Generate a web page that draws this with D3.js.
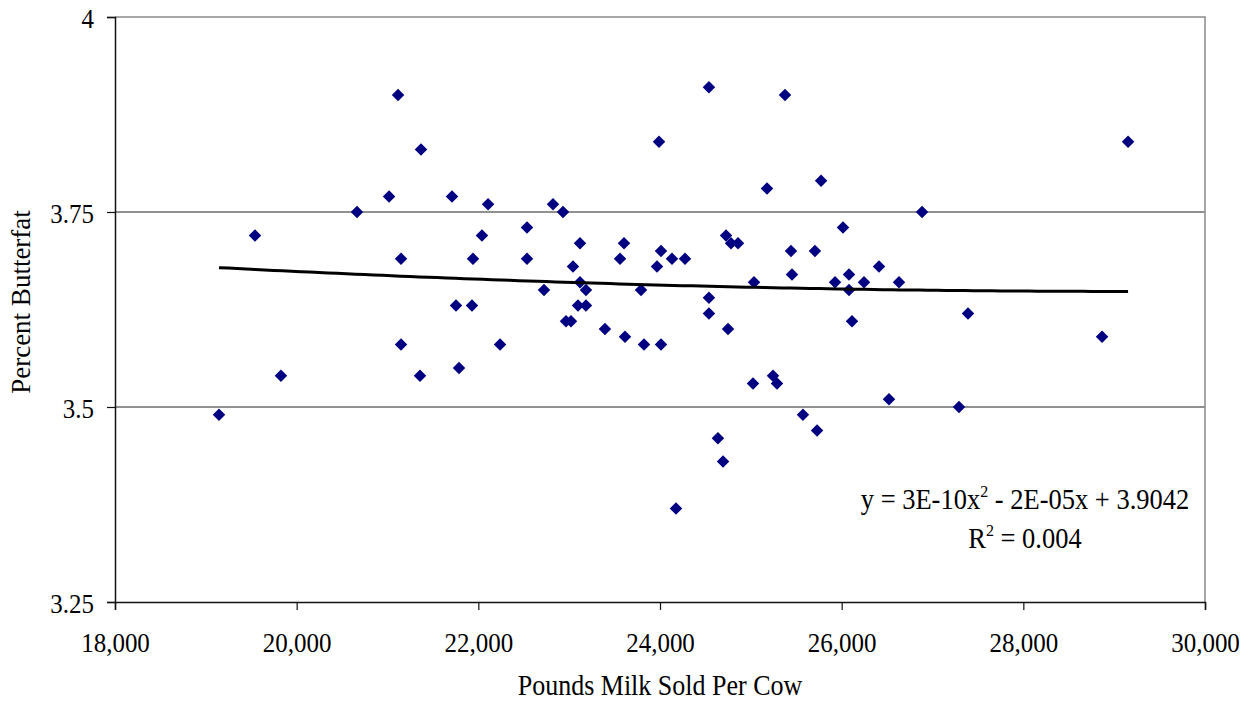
<!DOCTYPE html>
<html>
<head>
<meta charset="utf-8">
<script src="https://cdn.jsdelivr.net/npm/d3@7/dist/d3.min.js"></script>
<style>
  body { margin: 0; background: #fff; }
  text { font-family: "Liberation Serif", "Times New Roman", serif; fill: #000; }
</style>
</head>
<body>
<svg id="chart" width="1257" height="701"></svg>
<script>
// data: milk sold per cow (lb) and butterfat (%)
const milkSold = [
  19145, 19541, 19827, 20664, 21017, 21116, 21149, 21149, 21369, 21358,
  21710, 21754, 21787, 21930, 21941, 22040, 22107, 22239, 22536, 22536,
  22723, 22822, 22932, 22965, 23020, 23042, 23097, 23119, 23119, 23185,
  23185, 23394, 23560, 23604, 23615, 23791, 23824, 23967, 23989, 24011,
  24011, 24132, 24176, 24275, 24539, 24539, 24539, 24638, 24694, 24727,
  24749, 24782, 24859, 25024, 25035, 25178, 25244, 25288, 25376, 25442,
  25453, 25574, 25706, 25729, 25773, 25927, 26015, 26081, 26081, 26114,
  26246, 26411, 26521, 26631, 26885, 27292, 27391, 28867, 29153
];
const butterfat = [
  3.49, 3.72, 3.54, 3.75, 3.77, 3.90, 3.69, 3.58, 3.83, 3.54,
  3.77, 3.63, 3.55, 3.63, 3.69, 3.72, 3.76, 3.58, 3.73, 3.69,
  3.65, 3.76, 3.75, 3.61, 3.61, 3.68, 3.63, 3.71, 3.66, 3.65,
  3.63, 3.60, 3.69, 3.71, 3.59, 3.65, 3.58, 3.68, 3.84, 3.70,
  3.58, 3.69, 3.37, 3.69, 3.64, 3.62, 3.91, 3.46, 3.43, 3.72,
  3.60, 3.71, 3.71, 3.53, 3.66, 3.78, 3.54, 3.53, 3.90, 3.70,
  3.67, 3.49, 3.70, 3.47, 3.79, 3.66, 3.73, 3.67, 3.65, 3.61,
  3.66, 3.68, 3.51, 3.66, 3.75, 3.50, 3.62, 3.59, 3.84
];
const xTicks = [18000, 20000, 22000, 24000, 26000, 28000, 30000];
const yTicks = [3.25, 3.5, 3.75, 4];
const gridValues = [3.5, 3.75];
const equationText = ["y = 3E-10x", "2", " - 2E-05x + 3.9042"];
const rSquaredText = ["R", "2", " = 0.004"];

const svg = d3.select("#chart");
const plot = { left: 115, right: 1205, top: 17, bottom: 602 };

const x = d3.scaleLinear().domain([18000, 30000]).range([plot.left, plot.right]);
const y = d3.scaleLinear().domain([3.25, 4]).range([plot.bottom, plot.top]);

// vodorovne mrizky
svg.append("g").selectAll("line")
  .data(gridValues)
  .join("line")
  .attr("x1", plot.left).attr("x2", plot.right)
  .attr("y1", d => y(d)).attr("y2", d => y(d))
  .attr("stroke", "#222").attr("stroke-width", 1);

// ramecek - horni a pravy okraj sedy
svg.append("path")
  .attr("d", `M${plot.left},${plot.top}H${plot.right}V${plot.bottom}`)
  .attr("fill", "none").attr("stroke", "#8a8a8a").attr("stroke-width", 1.5);

// osy
const yAxis = svg.append("g")
  .attr("transform", `translate(${plot.left},0)`)
  .call(d3.axisLeft(y).tickValues(yTicks).tickSize(8).tickPadding(13).tickFormat(d => String(d)));
yAxis.selectAll("text").attr("font-size", 25).attr("dy", "0.40em")
  .style("font-family", '"Liberation Serif", serif');

const xAxis = svg.append("g")
  .attr("transform", `translate(0,${plot.bottom})`)
  .call(d3.axisBottom(x).tickValues(xTicks).tickSize(8).tickPadding(23).tickFormat(d3.format(",")));
xAxis.selectAll("text").attr("font-size", 25)
  .style("font-family", '"Liberation Serif", serif');

[yAxis, xAxis].forEach(a => {
  a.select(".domain").attr("stroke", "#111").attr("stroke-width", 1.5);
  a.selectAll(".tick line").attr("stroke", "#111").attr("stroke-width", 1.2);
});

// body - tmave modre kosoctverce
const points = milkSold.map((m, i) => ({ m, b: butterfat[i] }));
const diamond = d3.symbol().type(d3.symbolSquare).size(78);
svg.append("g").selectAll("path")
  .data(points)
  .join("path")
  .attr("d", diamond)
  .attr("transform", d => `translate(${x(d.m)},${y(d.b)}) rotate(45)`)
  .attr("fill", "#000080");

// polynomicky trend 2. radu - metoda nejmensich ctvercu
function quadFit(xs, ys) {
  const t = xs.map(v => v / 1000);
  const S = [0, 0, 0, 0, 0], T = [0, 0, 0];
  t.forEach((v, i) => {
    for (let k = 0; k < 5; k++) S[k] += Math.pow(v, k);
    for (let k = 0; k < 3; k++) T[k] += ys[i] * Math.pow(v, k);
  });
  const A = [[S[0], S[1], S[2], T[0]], [S[1], S[2], S[3], T[1]], [S[2], S[3], S[4], T[2]]];
  for (let c = 0; c < 3; c++) {
    for (let r = c + 1; r < 3; r++) {
      const f = A[r][c] / A[c][c];
      for (let k = c; k < 4; k++) A[r][k] -= f * A[c][k];
    }
  }
  const sol = [0, 0, 0];
  for (let r = 2; r >= 0; r--) {
    let s = A[r][3];
    for (let k = r + 1; k < 3; k++) s -= A[r][k] * sol[k];
    sol[r] = s / A[r][r];
  }
  return v => sol[0] + sol[1] * (v / 1000) + sol[2] * Math.pow(v / 1000, 2);
}
const trend = quadFit(milkSold, butterfat);
const xMin = d3.min(milkSold), xMax = d3.max(milkSold);
const trendX = d3.range(0, 101).map(i => xMin + (xMax - xMin) * i / 100);
svg.append("path")
  .datum(trendX)
  .attr("d", d3.line().x(d => x(d)).y(d => y(trend(d))))
  .attr("fill", "none").attr("stroke", "#000").attr("stroke-width", 3);

// rovnice trendu
function supText(parts, cx, baseline) {
  const t = svg.append("text").attr("x", cx).attr("y", baseline)
    .attr("class", "stretch")
    .attr("text-anchor", "middle").attr("font-size", 26.5);
  t.append("tspan").text(parts[0]);
  t.append("tspan").attr("dy", -11).attr("font-size", 16).text(parts[1]);
  t.append("tspan").attr("dy", 11).text(parts[2]);
}
supText(equationText, 1025, 508);
supText(rSquaredText, 1025, 547);

// popisky os
svg.append("text")
  .attr("class", "stretch")
  .attr("x", (plot.left + plot.right) / 2).attr("y", 694)
  .attr("text-anchor", "middle").attr("font-size", 26)
  .text("Pounds Milk Sold Per Cow");
svg.append("text")
  .attr("transform", `translate(30,302) rotate(-90)`)
  .attr("text-anchor", "middle").attr("font-size", 27)
  .text("Percent Butterfat");

// puvodni obrazek ma pismo trochu vytazene do vysky
xAxis.selectAll("text").attr("class", "stretch");
yAxis.selectAll("text").attr("class", "stretch");
svg.selectAll("text.stretch").each(function() {
  const bb = this.getBBox();
  const cy = bb.y + bb.height / 2;
  const s = 1.1;
  d3.select(this).attr("transform", `translate(0,${cy * (1 - s)}) scale(1,${s})`);
});
</script>
</body>
</html>
